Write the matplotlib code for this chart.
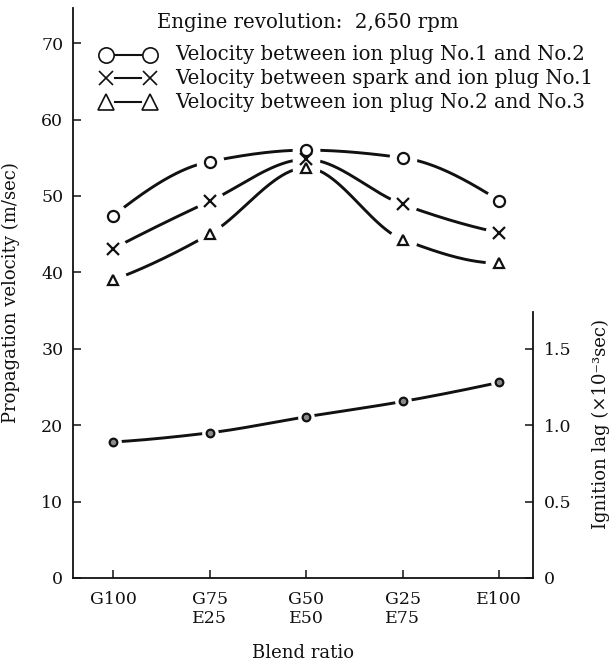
import numpy as np
import matplotlib
matplotlib.use('Agg')
import matplotlib.pyplot as plt

# ---------------- data ----------------
categories = ['G100', 'G75\nE25', 'G50\nE50', 'G25\nE75', 'E100']
vel_ion12 = [47.4, 54.5, 56.0, 55.0, 49.4]     # circles
vel_spark1 = [43.1, 49.3, 54.8, 48.9, 45.2]    # crosses
vel_ion23 = [39.0, 45.0, 53.7, 44.3, 41.2]     # triangles
ign_lag = [0.89, 0.95, 1.055, 1.155, 1.28]     # ignition lag (x10^-3 sec)

left_ticks = [0, 10, 20, 30, 40, 50, 60, 70]
right_ticks = [0, 0.5, 1.0, 1.5]
right_tick_labels = ['0', '0.5', '1.0', '1.5']

header = 'Engine revolution:  2,650 rpm'
legend_labels = ['Velocity between ion plug No.1 and No.2',
                 'Velocity between spark and ion plug No.1',
                 'Velocity between ion plug No.2 and No.3']

plt.rcParams['font.family'] = ['DejaVu Serif']
FS = 12.5
FS_LEG = 14.2
INK = '#111111'


def pchip(x, y, xs):
    x = np.asarray(x, float); y = np.asarray(y, float)
    h = np.diff(x); delta = np.diff(y) / h
    n = len(x); d = np.zeros(n)
    for k in range(1, n - 1):
        if delta[k - 1] * delta[k] > 0:
            w1 = 2 * h[k] + h[k - 1]; w2 = h[k] + 2 * h[k - 1]
            d[k] = (w1 + w2) / (w1 / delta[k - 1] + w2 / delta[k])
    def end(h0, h1, d0, d1):
        v = ((2 * h0 + h1) * d0 - h0 * d1) / (h0 + h1)
        if np.sign(v) != np.sign(d0):
            return 0.0
        if np.sign(d0) != np.sign(d1) and abs(v) > 3 * abs(d0):
            return 3 * d0
        return v
    d[0] = end(h[0], h[1], delta[0], delta[1])
    d[-1] = end(h[-1], h[-2], delta[-1], delta[-2])
    out = np.empty_like(xs)
    for i, xv in enumerate(xs):
        k = min(max(np.searchsorted(x, xv) - 1, 0), n - 2)
        t = (xv - x[k]) / h[k]
        h00 = 2 * t**3 - 3 * t**2 + 1; h10 = t**3 - 2 * t**2 + t
        h01 = -2 * t**3 + 3 * t**2; h11 = t**3 - t**2
        out[i] = h00 * y[k] + h10 * h[k] * d[k] + h01 * y[k + 1] + h11 * h[k] * d[k + 1]
    return out


W, H = 610, 663
fig = plt.figure(figsize=(W / 100, H / 100), dpi=100)
L, R, B, T = 73, 533, 578, 8
ax = fig.add_axes([L / W, 1 - B / H, (R - L) / W, (B - T) / H])
xpos = np.arange(len(categories))
ax.set_xlim(-0.415, 4.35)
ax.set_ylim(0, 74.6)
for s in ['top', 'right']:
    ax.spines[s].set_visible(False)
for s in ['left', 'bottom']:
    ax.spines[s].set_linewidth(1.3)
    ax.spines[s].set_color(INK)
ax.set_yticks(left_ticks)
ax.set_xticks(xpos)
ax.set_xticklabels(categories, linespacing=1.2)
ax.tick_params(axis='both', direction='in', length=6, width=1.1, labelsize=FS,
               colors=INK)
ax.tick_params(axis='y', pad=7)
ax.tick_params(axis='x', pad=9)
ax.set_ylabel('Propagation velocity (m/sec)', fontsize=FS + 0.5, color=INK)
ax.yaxis.set_label_coords(-0.115, 0.5)
ax.set_xlabel('Blend ratio', fontsize=FS + 0.5, color=INK)
ax.xaxis.set_label_coords(0.5, -0.115)

ax2 = ax.twinx()
ax2.set_ylim(0, 74.6 / 20)
for s in ['top', 'left', 'bottom']:
    ax2.spines[s].set_visible(False)
ax2.spines['right'].set_bounds(0, 1.74)
ax2.spines['right'].set_linewidth(1.3)
ax2.spines['right'].set_color(INK)
ax2.set_yticks(right_ticks)
ax2.set_yticklabels(right_tick_labels)
ax2.tick_params(axis='y', direction='in', length=6, width=1.1, labelsize=FS,
                colors=INK, pad=8)
ax2.set_ylabel('Ignition lag (×10⁻³sec)', fontsize=FS + 0.5, color=INK)
ax2.yaxis.set_label_coords(1.128, 0.27)

xs = np.linspace(0, 4, 300)
series = [(vel_ion12, 'o', 8, 'white'),
          (vel_spark1, 'x', 8, 'none'),
          (vel_ion23, '^', 6.5, 'white')]
for vals, m, ms, fc in series:
    ax.plot(xs, pchip(xpos, vals, xs), color=INK, lw=2.1, zorder=2,
            solid_capstyle='butt')
for vals, m, ms, fc in series:
    ax.plot(xpos, vals, ls='none', marker='o', ms=19, mfc='white', mec='white',
            zorder=3)
for vals, m, ms, fc in series:
    ax.plot(xpos, vals, ls='none', marker=m, ms=ms, mfc=fc, mec=INK, mew=1.6,
            zorder=4)

ax2.plot(xs, pchip(xpos, ign_lag, xs), color=INK, lw=2.1, zorder=2)
ax2.plot(xpos, ign_lag, ls='none', marker='o', ms=11, mfc='white', mec='white',
         zorder=3)
ax2.plot(xpos, ign_lag, ls='none', marker='o', ms=5.5, mfc='#8a8a8a', mec=INK,
         mew=1.6, zorder=4)

# header and hand-drawn style legend in pixel coordinates
ov = fig.add_axes([0, 0, 1, 1], facecolor='none')
ov.set_xlim(0, W); ov.set_ylim(H, 0); ov.axis('off')
ov.text(157, 23, header, fontsize=FS_LEG, color=INK, va='center', ha='left')
rows_y = [55, 78, 102]
legend_markers = [('o', 11, 'white'), ('x', 10, 'none'), ('^', 11, 'white')]
for y, (m, ms, fc), lab in zip(rows_y, legend_markers, legend_labels):
    ov.plot([115, 141], [y, y], color=INK, lw=1.5)
    ov.plot([106, 150], [y, y], ls='none', marker=m, ms=ms, mfc=fc, mec=INK,
            mew=1.2)
    ov.text(175, y, lab, fontsize=FS_LEG, color=INK, va='center', ha='left')

fig.savefig('out.png', dpi=100)
